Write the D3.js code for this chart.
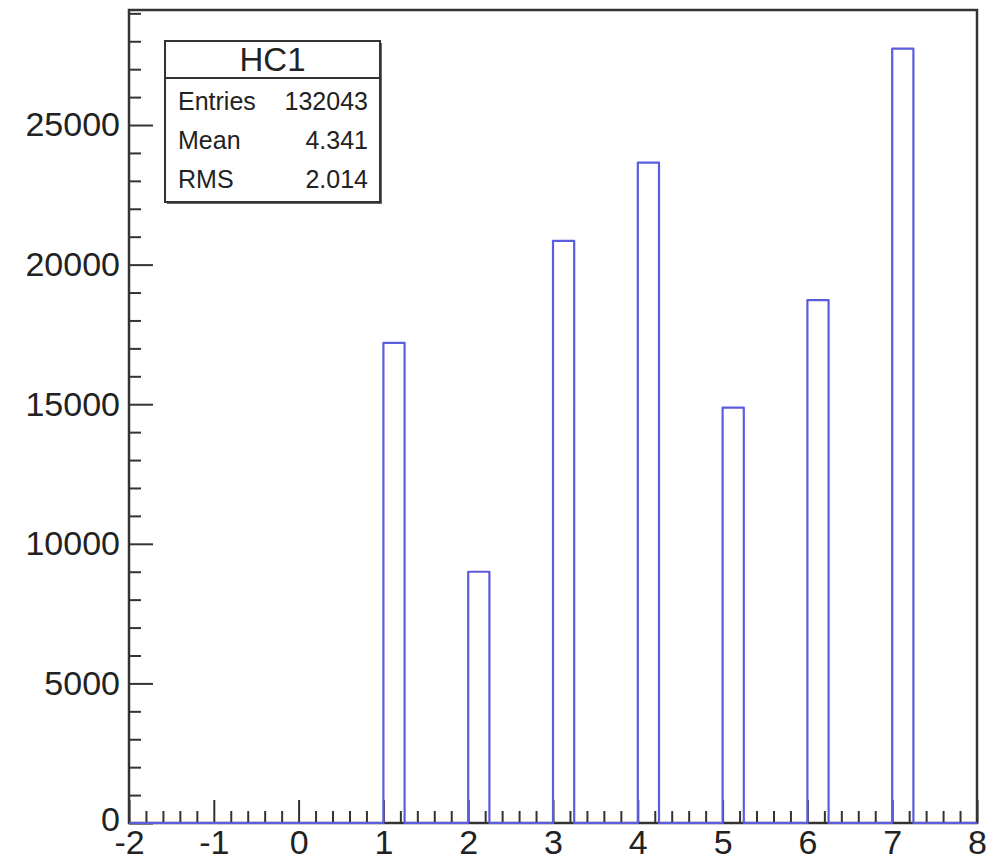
<!DOCTYPE html>
<html>
<head>
<meta charset="utf-8">
<script src="https://cdn.jsdelivr.net/npm/d3@7"></script>
<style>
  html, body { margin: 0; padding: 0; background: #fff; }
  svg { display: block; }
  text { font-family: "Liberation Sans", Arial, Helvetica, sans-serif; fill: #222; }
</style>
</head>
<body>
<svg id="chart" width="992" height="861"></svg>
<script>
// ---- data ----
const binLow = [1, 2, 3, 4, 5, 6, 7];          // lower edge of filled bins
const counts = [17200, 9000, 20850, 23650, 14880, 18730, 27733];
const binWidth = 0.25;
const xDomain = [-2, 8];
const xMajorTicks = [-2, -1, 0, 1, 2, 3, 4, 5, 6, 7, 8];
const yMajorTicks = [0, 5000, 10000, 15000, 20000, 25000];
const statsTitle = "HC1";
const statsLabels = ["Entries", "Mean", "RMS"];
const statsValues = ["132043", "4.341", "2.014"];

// ---- layout ----
const svg = d3.select("#chart");
const L = 129, R = 977, T = 10, B = 823;
const yMax = d3.max(counts) * 1.05;

const x = d3.scaleLinear().domain(xDomain).range([L, R]);
const y = d3.scaleLinear().domain([0, yMax]).range([B, T]);

const axisColor = "#333";
const fontSize = 34;
const fmt = d => String(d);

// minor tick values
const xMinor = d3.range(-2, 8.0001, 0.2).filter(v => Math.abs(v - Math.round(v)) > 1e-6);
const yMinor = d3.range(0, yMax, 1000).filter(v => v % 5000 !== 0);

// ---- Y axis ----
const gy = svg.append("g").attr("transform", `translate(${L},0)`);
gy.call(d3.axisLeft(y).tickValues(yMajorTicks).tickSize(-24).tickPadding(9).tickFormat(fmt));
gy.append("g").call(d3.axisLeft(y).tickValues(yMinor).tickSize(-12).tickFormat(""));
gy.selectAll(".domain").remove();
gy.selectAll("line").attr("stroke", axisColor).attr("stroke-width", 2);
gy.selectAll("text").attr("font-size", fontSize).style("font-family", '"Liberation Sans", Arial, sans-serif').attr("fill", "#222");
gy.selectAll(".tick text").filter(d => d === 0).attr("dy", "0.22em");

// ---- X axis ----
const gx = svg.append("g").attr("transform", `translate(0,${B})`);
gx.call(d3.axisBottom(x).tickValues(xMajorTicks).tickSize(-23).tickPadding(7).tickFormat(fmt));
gx.append("g").call(d3.axisBottom(x).tickValues(xMinor).tickSize(-12).tickFormat(""));
gx.selectAll(".domain").remove();
gx.selectAll("line").attr("stroke", axisColor).attr("stroke-width", 2);
gx.selectAll("text").attr("font-size", fontSize).style("font-family", '"Liberation Sans", Arial, sans-serif').attr("fill", "#222");

// ---- frame ----
svg.append("rect")
  .attr("x", L).attr("y", T).attr("width", R - L).attr("height", B - T)
  .attr("fill", "none").attr("stroke", axisColor).attr("stroke-width", 2.5);

// ---- histogram outline ----
const pts = [[xDomain[0], 0]];
binLow.forEach((b, i) => {
  pts.push([b, 0], [b, counts[i]], [b + binWidth, counts[i]], [b + binWidth, 0]);
});
pts.push([xDomain[1], 0]);
const line = d3.line().x(d => x(d[0])).y(d => y(d[1]));
svg.append("path")
  .attr("d", line(pts))
  .attr("fill", "none")
  .attr("stroke", "#5c5ce0")
  .attr("stroke-width", 2.2)
  .attr("stroke-linejoin", "round");

// ---- stats box ----
const bx = 165, by = 41, bw = 215, bh = 161, titleH = 37;
const box = svg.append("g");
box.append("rect").attr("x", bx + 2).attr("y", by + 2).attr("width", bw).attr("height", bh)
  .attr("fill", "#666");
box.append("rect").attr("x", bx).attr("y", by).attr("width", bw).attr("height", bh)
  .attr("fill", "#fff").attr("stroke", "#333").attr("stroke-width", 2);
box.append("line").attr("x1", bx).attr("x2", bx + bw).attr("y1", by + titleH).attr("y2", by + titleH)
  .attr("stroke", "#333").attr("stroke-width", 2);
box.append("text").attr("x", bx + bw / 2).attr("y", by + 30)
  .attr("text-anchor", "middle").attr("font-size", 33).text(statsTitle);
const rowY = [110, 149, 188];
statsLabels.forEach((lab, i) => {
  box.append("text").attr("x", 178).attr("y", rowY[i]).attr("font-size", 25).text(lab);
  box.append("text").attr("x", 368).attr("y", rowY[i]).attr("font-size", 25)
    .attr("text-anchor", "end").text(statsValues[i]);
});
</script>
</body>
</html>
